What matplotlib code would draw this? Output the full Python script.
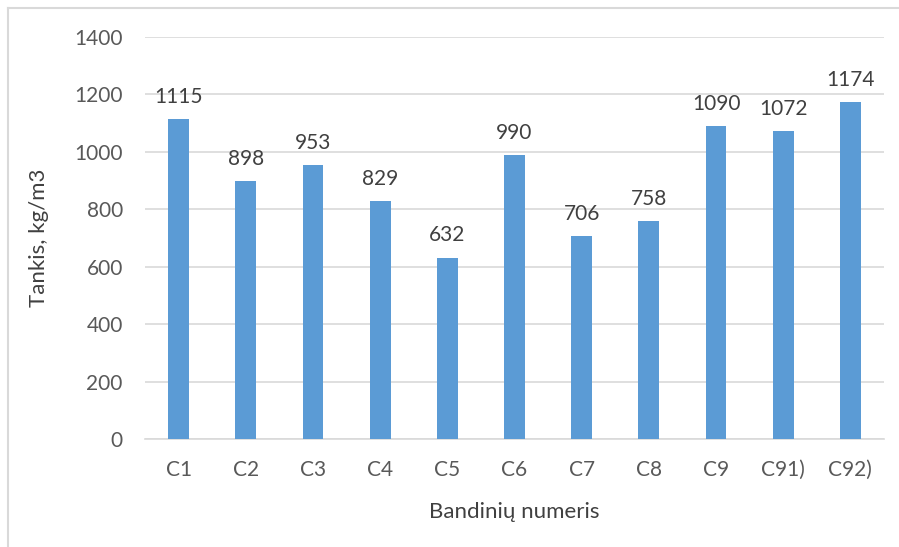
import matplotlib.pyplot as plt
from matplotlib.lines import Line2D
import numpy as np

samples = ['C1', 'C2', 'C3', 'C4', 'C5', 'C6', 'C7', 'C8', 'C9', 'C91)', 'C92)']
density = [1115, 898, 953, 829, 632, 990, 706, 758, 1090, 1072, 1174]
y_ticks = [0, 200, 400, 600, 800, 1000, 1200, 1400]

plt.rcParams['font.family'] = ['Lato', 'DejaVu Sans']

fig = plt.figure(figsize=(8.99, 5.47), dpi=100)
ax = fig.add_axes([0.1613, 0.1974, 0.822, 0.735])

pos = np.arange(len(samples))
ax.bar(pos, density, width=0.31, color='#5B9BD5', zorder=3)

# value labels above the bars
for p, v in zip(pos, density):
    ax.text(p, v + 42, str(v), ha='center', va='bottom', fontsize=15, color='#404040')

ax.set_xlim(-0.5, len(samples) - 0.5)
ax.set_ylim(0, 1400)
ax.set_yticks(y_ticks)
ax.set_xticks(pos)
ax.set_xticklabels(samples)
ax.tick_params(axis='both', length=0, labelsize=15, colors='#595959')
ax.tick_params(axis='y', pad=16)
ax.tick_params(axis='x', pad=15)

ax.grid(axis='y', color='#D9D9D9', linewidth=1.2, zorder=0)
for s in ['top', 'right', 'left']:
    ax.spines[s].set_visible(False)
ax.spines['bottom'].set_color('#D9D9D9')
ax.spines['bottom'].set_linewidth(1.2)

ax.set_ylabel('Tankis, kg/m3', fontsize=16, color='#404040', labelpad=18)
ax.set_xlabel('Bandinių numeris', fontsize=16, color='#404040', labelpad=16)

# outer chart frame (top and left edges visible)
fig.add_artist(Line2D([8 / 899, 1], [1 - 8 / 547, 1 - 8 / 547], color='#D9D9D9', lw=1.5))
fig.add_artist(Line2D([8 / 899, 8 / 899], [0, 1 - 8 / 547], color='#D9D9D9', lw=1.5))

fig.savefig('out.png', dpi=100)
